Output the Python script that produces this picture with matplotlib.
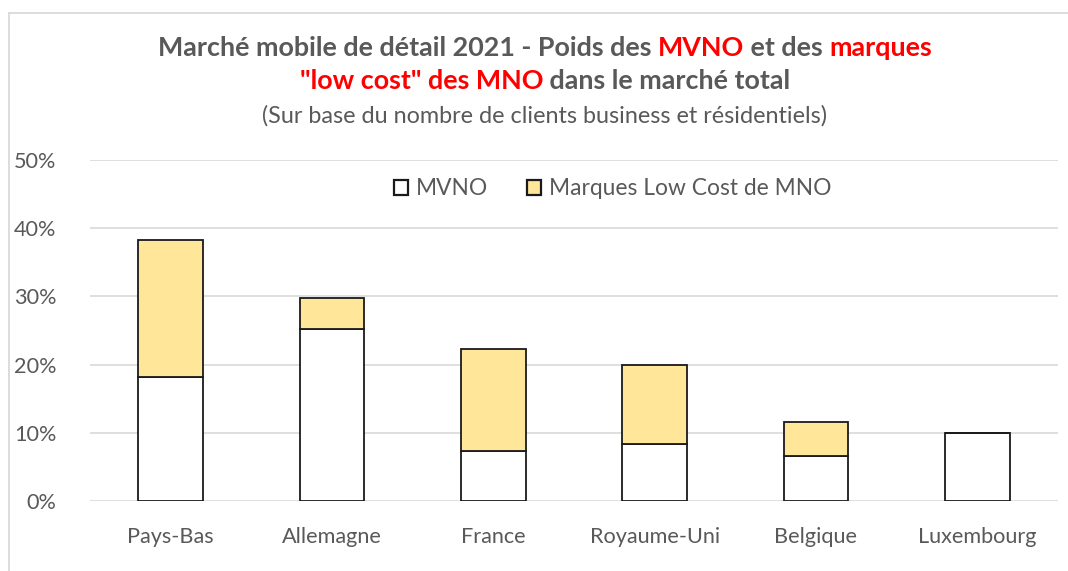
import numpy as np
import matplotlib as mpl
import matplotlib.pyplot as plt
from matplotlib.lines import Line2D

# donnees
pays = ['Pays-Bas', 'Allemagne', 'France', 'Royaume-Uni', 'Belgique', 'Luxembourg']
mvno = [18.2, 25.2, 7.4, 8.3, 6.6, 9.9]
low_cost = [20.0, 4.5, 14.9, 11.7, 5.0, 0.0]
yticks = [0, 10, 20, 30, 40, 50]

gris = '#595959'
rouge = '#FF0000'
jaune = '#FFE699'
plt.rcParams['font.family'] = ['Lato', 'DejaVu Sans']

fig = plt.figure(figsize=(10.68, 5.71), dpi=100)
W, H = 1068., 571.
ax = fig.add_axes([90/W, 1-501/H, 968/W, 341/H])

x = np.arange(len(pays))
ax.bar(x, mvno, 0.4, color='white', edgecolor='#1a1a1a', linewidth=1.3, zorder=3, label='MVNO')
ax.bar(x, low_cost, 0.4, bottom=mvno, color=jaune, edgecolor='#1a1a1a', linewidth=1.3, zorder=3,
       label='Marques Low Cost de MNO')

ax.set_xlim(-0.5, len(pays)-0.5)
ax.set_ylim(0, 50)
ax.set_yticks(yticks)
ax.set_yticklabels([str(v)+'%' for v in yticks])
ax.set_xticks(x)
ax.set_xticklabels(pays)
ax.tick_params(length=0, labelsize=15.6, colors=gris)
ax.tick_params(axis='x', pad=19)
ax.tick_params(axis='y', pad=24)
ax.grid(axis='y', color='#D9D9D9', linewidth=1.2, zorder=0)
for s in ax.spines.values():
    s.set_visible(False)

leg = ax.legend(loc='center', bbox_to_anchor=(0.54, 0.915), ncol=2, frameon=False, fontsize=16.4,
                handlelength=0.6, handleheight=0.6, handletextpad=0.35, columnspacing=1.73)
for t in leg.get_texts():
    t.set_color(gris)
for p in leg.get_patches():
    p.set_linewidth(1.6)

# cadre du graphique (haut et gauche)
fig.add_artist(Line2D([9/W, 1], [1-13/H, 1-13/H], transform=fig.transFigure, color='#D9D9D9', lw=1.3))
fig.add_artist(Line2D([9/W, 9/W], [0, 1-13/H], transform=fig.transFigure, color='#D9D9D9', lw=1.3))

# titre multicolore
renderer = fig.canvas.get_renderer()

def largeur(s, **kw):
    t = fig.text(0, 0, s + 'x', **kw)
    w1 = t.get_window_extent(renderer).width
    t.remove()
    t = fig.text(0, 0, 'x', **kw)
    w2 = t.get_window_extent(renderer).width
    t.remove()
    return w1 - w2

def ligne(morceaux, y, **kw):
    total = largeur(''.join(m for m, c in morceaux), **kw)
    x0 = 545 - total/2
    prefixe = ''
    for m, c in morceaux:
        fig.text((x0 + largeur(prefixe, **kw))/W, 1-y/H, m, color=c, va='center', ha='left', **kw)
        prefixe += m

kw = dict(fontsize=19.4, fontweight='bold')
ligne([('Marché mobile de détail 2021 - Poids des ', gris), ('MVNO', rouge),
       (' et des ', gris), ('marques', rouge)], 48, **kw)
ligne([('"low cost" des MNO', rouge), (' dans le marché total', gris)], 81, **kw)
fig.text(545/W, 1-116/H, '(Sur base du nombre de clients business et résidentiels)', color=gris,
         fontsize=16.8, ha='center', va='center')

fig.savefig('out.png', dpi=100)
